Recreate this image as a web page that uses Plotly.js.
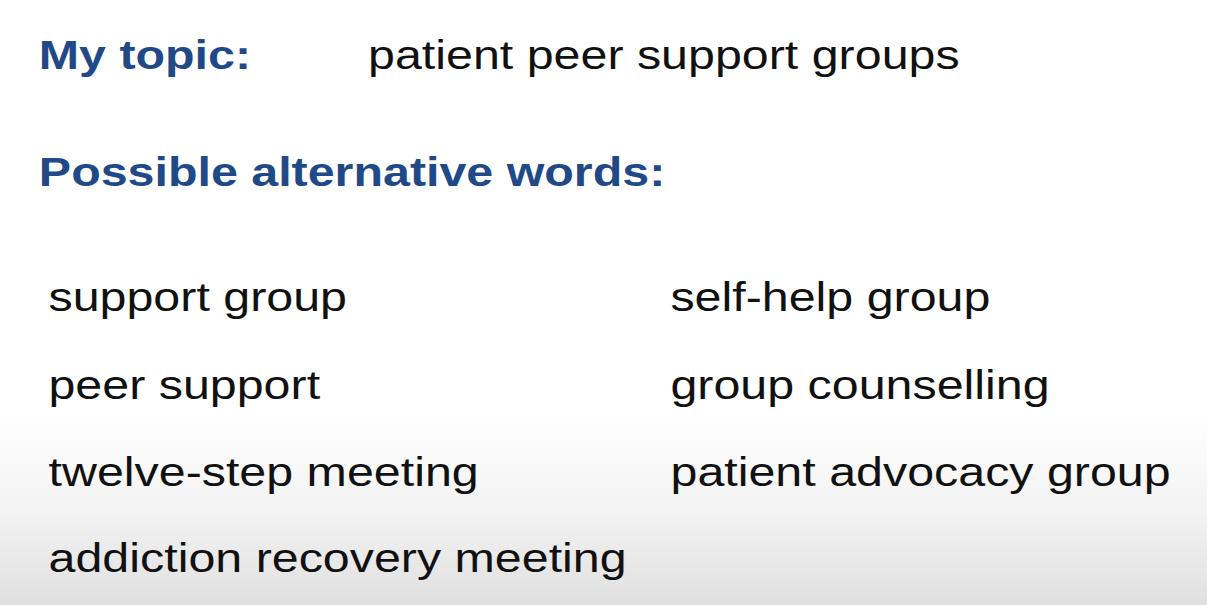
<!DOCTYPE html>
<html>
<head>
<meta charset="utf-8">
<script src="https://cdn.plot.ly/plotly-3.0.1.min.js"></script>
<style>
  html, body { margin: 0; padding: 0; overflow: hidden; }
  #wrap {
    width: 1207px; height: 605px; overflow: hidden;
    background: linear-gradient(to bottom, #ffffff 0%, #ffffff 68%, #f2f2f2 85%, #e0e0e0 100%);
  }
  /* the slide font is set wider than Liberation Sans, so stretch horizontally */
  #slide { transform: scaleX(1.21); transform-origin: 0 0; }
</style>
</head>
<body>
<div id="wrap"><div id="slide"></div></div>
<script>
// Slide content
const topicLabel = 'My topic:';
const topicText = 'patient peer support groups';
const altHeading = 'Possible alternative words:';
const leftWords = ['support group', 'peer support', 'twelve-step meeting', 'addiction recovery meeting'];
const rightWords = ['self-help group', 'group counselling', 'patient advocacy group'];

const blue = '#1f4a87';
const ink = '#111111';
const face = 'Liberation Sans, Arial, sans-serif';
const stretch = 1.21;
const rowY = [297, 385, 472, 558];

const ann = (text, x, y, color, bold) => ({
  text: bold ? '<b>' + text + '</b>' : text,
  x, y, xref: 'x', yref: 'y',
  xanchor: 'left', yanchor: 'middle',
  showarrow: false,
  font: { family: face, size: 40, color },
});

const annotations = [
  ann(topicLabel, 36, 55, blue, true),
  ann(topicText, 365, 55, ink, false),
  ann(altHeading, 36, 172, blue, true),
  ...leftWords.map((w, i) => ann(w, 46, rowY[i], ink, false)),
  ...rightWords.map((w, i) => ann(w, 667, rowY[i], ink, false)),
];

const layout = {
  width: Math.round(1207 / stretch), height: 605,
  margin: { t: 0, r: 0, b: 0, l: 0 },
  paper_bgcolor: 'rgba(0,0,0,0)',
  plot_bgcolor: 'rgba(0,0,0,0)',
  xaxis: { range: [0, 1207], visible: false, fixedrange: true },
  yaxis: { range: [605, 0], visible: false, fixedrange: true },
  showlegend: false,
  annotations,
};

Plotly.newPlot('slide', [], layout, { displayModeBar: false, staticPlot: true });
</script>
</body>
</html>
